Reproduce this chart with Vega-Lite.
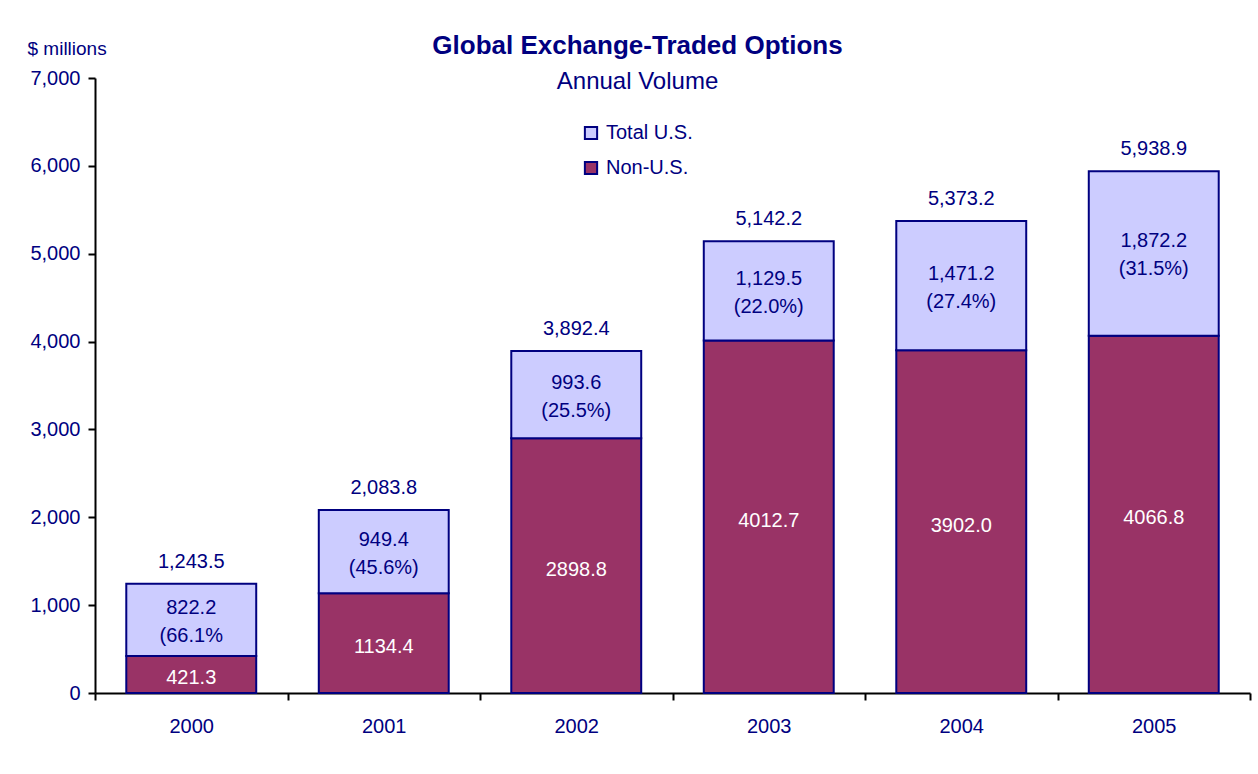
{
  "$schema": "https://vega.github.io/schema/vega-lite/v6.json",
  "autosize": "none",
  "width": 1155,
  "height": 615,
  "padding": {"left": 95, "top": 78, "right": 8, "bottom": 81},
  "background": "white",
  "title": {
    "text": "Global Exchange-Traded Options",
    "subtitle": "Annual Volume",
    "anchor": "middle",
    "dx": -35,
    "offset": -55,
    "font": "Liberation Sans",
    "fontSize": 26,
    "fontWeight": "bold",
    "color": "#000080",
    "subtitleFont": "Liberation Sans",
    "subtitleFontSize": 24,
    "subtitleColor": "#000080",
    "subtitlePadding": 11
  },
  "data": {
    "values": [
      {"year": "2000", "series": "Non-U.S.", "value": 421.3, "label": "421.3"},
      {"year": "2000", "series": "Total U.S.", "value": 822.2, "label": "822.2\n(66.1%"},
      {"year": "2001", "series": "Non-U.S.", "value": 1134.4, "label": "1134.4"},
      {"year": "2001", "series": "Total U.S.", "value": 949.4, "label": "949.4\n(45.6%)"},
      {"year": "2002", "series": "Non-U.S.", "value": 2898.8, "label": "2898.8"},
      {"year": "2002", "series": "Total U.S.", "value": 993.6, "label": "993.6\n(25.5%)"},
      {"year": "2003", "series": "Non-U.S.", "value": 4012.7, "label": "4012.7"},
      {"year": "2003", "series": "Total U.S.", "value": 1129.5, "label": "1,129.5\n(22.0%)"},
      {"year": "2004", "series": "Non-U.S.", "value": 3902.0, "label": "3902.0"},
      {"year": "2004", "series": "Total U.S.", "value": 1471.2, "label": "1,471.2\n(27.4%)"},
      {"year": "2005", "series": "Non-U.S.", "value": 4066.8, "label": "4066.8"},
      {"year": "2005", "series": "Total U.S.", "value": 1872.2, "label": "1,872.2\n(31.5%)"}
    ]
  },
  "layer": [
    {
      "mark": {"type": "bar", "stroke": "#000080", "strokeWidth": 2, "width": {"band": 0.675}},
      "encoding": {
        "x": {"field": "year", "type": "nominal", "title": null,
              "scale": {"paddingInner": 0, "paddingOuter": 0}},
        "y": {"field": "value", "type": "quantitative", "title": "$ millions", "stack": "zero",
              "scale": {"domain": [0, 7000], "nice": false}, "axis": {"format": ",.0f", "values": [0, 1000, 2000, 3000, 4000, 5000, 6000, 7000]}},
        "color": {"field": "series", "type": "nominal",
                  "scale": {"domain": ["Total U.S.", "Non-U.S."], "range": ["#CCCCFF", "#993366"]},
                  "legend": {"orient": "none", "legendX": 486, "legendY": 45, "title": null,
                             "symbolType": "square", "symbolSize": 150, "symbolStrokeColor": "#000080",
                             "symbolStrokeWidth": 2, "symbolOpacity": 1, "labelFontSize": 20,
                             "labelColor": "#000080", "labelOffset": 5, "rowPadding": 13, "padding": 0}},
        "order": {"field": "series", "sort": "ascending"}
      }
    },
    {
      "transform": [
        {"stack": "value", "groupby": ["year"], "sort": [{"field": "series", "order": "ascending"}], "as": ["v0", "v1"]},
        {"fold": ["v0", "v1"], "as": ["end", "pos"]},
        {"aggregate": [{"op": "mean", "field": "pos", "as": "mid"}], "groupby": ["year", "series", "label"]},
        {"filter": "datum.series === 'Non-U.S.'"}
      ],
      "mark": {"type": "text", "fontSize": 20, "baseline": "middle", "dy": 4, "color": "white"},
      "encoding": {
        "x": {"field": "year", "type": "nominal", "title": null,
              "scale": {"paddingInner": 0, "paddingOuter": 0}},
        "y": {"field": "mid", "type": "quantitative", "title": "$ millions", "stack": null,
              "scale": {"domain": [0, 7000], "nice": false}, "axis": {"format": ",.0f"}},
        "text": {"field": "label"}
      }
    },
    {
      "transform": [
        {"stack": "value", "groupby": ["year"], "sort": [{"field": "series", "order": "ascending"}], "as": ["v0", "v1"]},
        {"fold": ["v0", "v1"], "as": ["end", "pos"]},
        {"aggregate": [{"op": "mean", "field": "pos", "as": "mid"}], "groupby": ["year", "series", "label"]},
        {"filter": "datum.series === 'Total U.S.'"}
      ],
      "mark": {"type": "text", "fontSize": 20, "lineBreak": "\n", "lineHeight": 28, "baseline": "middle", "dy": -12, "color": "#000080"},
      "encoding": {
        "x": {"field": "year", "type": "nominal", "title": null,
              "scale": {"paddingInner": 0, "paddingOuter": 0}},
        "y": {"field": "mid", "type": "quantitative", "title": "$ millions", "stack": null,
              "scale": {"domain": [0, 7000], "nice": false}, "axis": {"format": ",.0f"}},
        "text": {"field": "label"}
      }
    },
    {
      "data": {
        "values": [
          {"year": "2000", "total": 1243.5, "label": "1,243.5"},
          {"year": "2001", "total": 2083.8, "label": "2,083.8"},
          {"year": "2002", "total": 3892.4, "label": "3,892.4"},
          {"year": "2003", "total": 5142.2, "label": "5,142.2"},
          {"year": "2004", "total": 5373.2, "label": "5,373.2"},
          {"year": "2005", "total": 5938.9, "label": "5,938.9"}
        ]
      },
      "mark": {"type": "text", "fontSize": 20, "baseline": "alphabetic", "dy": -16, "color": "#000080"},
      "encoding": {
        "x": {"field": "year", "type": "nominal", "title": null,
              "scale": {"paddingInner": 0, "paddingOuter": 0}},
        "y": {"field": "total", "type": "quantitative", "title": "$ millions",
              "scale": {"domain": [0, 7000], "nice": false}, "axis": {"format": ",.0f"}},
        "text": {"field": "label"}
      }
    }
  ],
  "config": {
    "font": "Liberation Sans",
    "view": {"stroke": null},
    "axis": {
      "labelFont": "Liberation Sans",
      "labelFontSize": 20,
      "labelColor": "#000080",
      "tickColor": "black",
      "tickWidth": 2,
      "tickSize": 7,
      "domainColor": "black",
      "domainWidth": 2,
      "grid": false
    },
    "axisY": {
      "labelPadding": 8,
      "titleAngle": 0,
      "titleAlign": "left",
      "titleBaseline": "alphabetic",
      "titleX": -68,
      "titleY": -24,
      "titleFont": "Liberation Sans",
      "titleFontSize": 19,
      "titleFontWeight": "normal",
      "titleColor": "#000080"
    },
    "axisX": {
      "tickBand": "extent",
      "labelAngle": 0,
      "labelPadding": 16
    }
  }
}
